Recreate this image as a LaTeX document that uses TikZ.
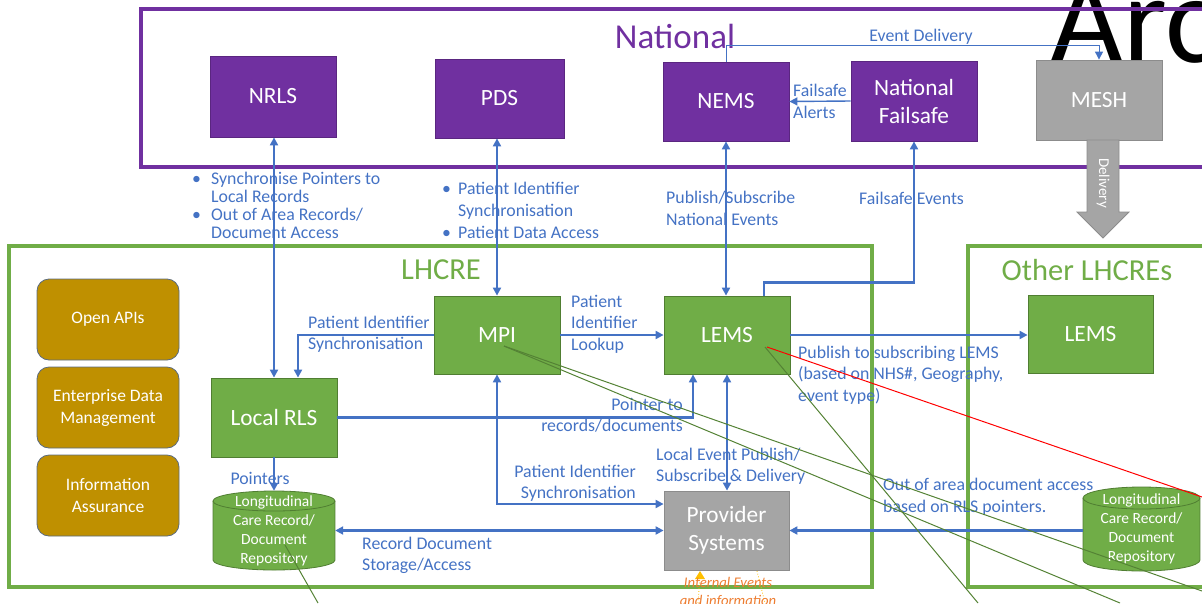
\documentclass[tikz,border=0pt]{standalone}
\usepackage{fontspec}
\setmainfont{Carlito}
\usetikzlibrary{arrows.meta}
\definecolor{npurple}{HTML}{7030A0}
\definecolor{lgreen}{HTML}{70AD47}
\definecolor{dgreen}{HTML}{507E32}
\definecolor{sgreen}{HTML}{548235}
\definecolor{lblue}{HTML}{4472C4}
\definecolor{gold}{HTML}{BF9000}
\definecolor{goldedge}{HTML}{5B6B80}
\definecolor{mgray}{HTML}{A5A5A5}
\definecolor{dgray}{HTML}{8C8C8C}
\definecolor{orng}{HTML}{ED7D31}
\definecolor{yorng}{HTML}{FFC000}
\newcommand\fs[2]{\fontsize{#1}{#2}\selectfont}
\begin{document}
\begin{tikzpicture}[x=1pt,y=-1pt,
  boxbase/.style={inner sep=0, align=center, text=white, font=\fs{23.3}{28}, line width=0.8pt},
  pbox/.style={boxbase, fill=npurple, draw=npurple!80!black},
  gbox/.style={boxbase, fill=lgreen, draw=dgreen},
  graybox/.style={boxbase, fill=mgray, draw=dgray},
  aux/.style={inner sep=0, align=center, text=white, font=\fs{17.5}{22}, fill=gold, draw=goldedge, line width=0.8pt, rounded corners=12pt, minimum width=142, minimum height=81},
  frame/.style={line width=3.5pt},
  lbl/.style={text=lblue, font=\fs{17.8}{21.5}, inner sep=0, align=left},
  conn/.style={draw=lblue, line width=2.3pt, arrows={-}},
  thinconn/.style={draw=lblue, line width=1pt},
  tip/.style={-{Triangle[length=8pt,width=8pt]}},
  tips/.style={{Triangle[length=8pt,width=8pt]}-{Triangle[length=8pt,width=8pt]}},
  cyltext/.style={inner sep=0, align=center, text=white, font=\fs{15.5}{19}},
  stray/.style={draw=sgreen, line width=1pt}
]
\useasboundingbox (0,0) rectangle (1202,603);
\clip (0,0) rectangle (1202,603);

% title fragment
\node[anchor=base west, inner sep=0, font=\fs{126}{130}] (title) at (1050,62) {Arc};

% containers
\draw[frame, draw=npurple] (141,9) rectangle (1230,167);
\node[text=npurple, font=\fs{35}{40}, inner sep=0] (natl) at (675,36) {National};
\draw[frame, draw=lgreen] (9,246) rectangle (872,587);
\node[text=lgreen, font=\fs{30.5}{36}, inner sep=0] (lhcrelbl) at (441,270) {LHCRE};
\draw[frame, draw=lgreen] (968,246) rectangle (1230,587);
\node[text=lgreen, font=\fs{30.5}{36}, inner sep=0] (otherlbl) at (1087,270) {Other LHCREs};

% national boxes
\node[pbox, minimum width=126, minimum height=81] (nrls) at (273,96.5) {NRLS};
\node[pbox, minimum width=129, minimum height=79] (pds) at (499.5,98.5) {PDS};
\node[pbox, minimum width=126, minimum height=79] (nems) at (726,101.5) {NEMS};
\node[pbox, minimum width=126, minimum height=80] (nfs) at (914,101) {National\\Failsafe};
\node[graybox, minimum width=126, minimum height=80] (mesh) at (1099,100) {MESH};

% delivery block arrow
\filldraw[fill=mgray, draw=dgray, line width=0.8pt]
  (1087,140) -- (1087,212) -- (1077,212) -- (1103,238) -- (1129,212) -- (1119,212) -- (1119,140) -- cycle;
\node[rotate=-90, text=white, font=\fs{15}{18}, inner sep=0] (dlv) at (1103,183) {Delivery};

% LHCRE boxes
\node[aux] (oapi) at (108,319.5) {Open APIs};
\node[aux] (edm) at (108,407.5) {Enterprise Data\\Management};
\node[aux] (ia) at (108,495.5) {Information\\Assurance};
\node[gbox, minimum width=126, minimum height=79] (lrls) at (274,417.5) {Local RLS};
\node[gbox, minimum width=126, minimum height=78] (mpi) at (497,335) {MPI};
\node[gbox, minimum width=126, minimum height=78] (lems) at (727,335) {LEMS};
\node[graybox, minimum width=125, minimum height=79] (prov) at (726.5,530.5) {Provider\\Systems};
\node[gbox, minimum width=125, minimum height=78] (olems) at (1090.5,334) {LEMS};

% cylinders
\fill[lgreen] (213,501) rectangle (335,560);
\fill[lgreen] (274,560) ellipse[x radius=61, y radius=10];
\draw[dgreen, line width=0.8pt] (213,501) -- (213,560) arc[start angle=180, end angle=0, x radius=61, y radius=10] -- (335,501);
\filldraw[fill=lgreen, draw=dgreen, line width=0.8pt] (274,501) ellipse[x radius=61, y radius=10];
\node[cyltext, minimum width=122, minimum height=79] (lcyl) at (274,530.5) {Longitudinal\\Care Record/\\Document\\Repository};

\fill[lgreen] (1083,498) rectangle (1200,560);
\fill[lgreen] (1141.5,560) ellipse[x radius=58.5, y radius=11];
\draw[dgreen, line width=0.8pt] (1083,498) -- (1083,560) arc[start angle=180, end angle=0, x radius=58.5, y radius=11] -- (1200,498);
\filldraw[fill=lgreen, draw=dgreen, line width=0.8pt] (1141.5,498) ellipse[x radius=58.5, y radius=11];
\node[cyltext, minimum width=117, minimum height=84] (rcyl) at (1141.5,529) {Longitudinal\\Care Record/\\Document\\Repository};

% connectors national
\draw[conn, tips] (lrls.north |- nrls.south) -- (lrls.north);
\draw[conn, tips] (mpi.north |- pds.south) -- (mpi.north);
\draw[conn, tips] (nems.south) -- (nems.south |- lems.north);
\draw[conn, tip] ([xshift=37pt]lems.north) -- ++(0,-13) -| (nfs.south);
\draw[thinconn, tip] (nems.north) -- ++(0,-16) -| (mesh.north);
\draw[draw=lblue, line width=1.4pt, tip] (nfs.west) -- (nems.east);

% connectors local
\draw[conn, tip] (mpi.west) -| ([xshift=24pt]lrls.north);
\draw[conn, tip] (mpi.east) -- (lems.west);
\draw[conn, tip] (lrls.east) -| ([xshift=-34pt]lems.south);
\draw[conn, tips] (mpi.south) |- ([yshift=26.5pt]prov.west);
\draw[conn, tips] (lems.south) -- (lems.south |- prov.north);
\draw[conn, tips] (lcyl.east) -- (prov.west |- lcyl.east);
\draw[conn, tip] (lems.east) -- (olems.west |- lems.east);
\draw[conn, tip] (rcyl.west |- prov.east) -- (prov.east);
\draw[conn, tip] (lrls.south) -- (lcyl.north);

% labels
\node[lbl, anchor=west, font=\fs{17.8}{18}] (l1) at (192,208) {\begin{tabular}{@{}l@{}l@{}}\makebox[19pt][l]{\textbullet} & Synchronise Pointers to\\ & Local Records\\ \makebox[19pt][l]{\textbullet} & Out of Area Records/\\ & Document Access\end{tabular}};
\node[lbl, anchor=west, font=\fs{17.8}{22}] (l2) at (442,212) {\begin{tabular}{@{}l@{}l@{}}\makebox[16pt][l]{\textbullet} & Patient Identifier\\ & Synchronisation\\ \makebox[16pt][l]{\textbullet} & Patient Data Access\end{tabular}};
\node[lbl, anchor=west] (l3) at (666,208.5) {Publish/Subscribe\\National Events};
\node[lbl, anchor=west] (l4) at (859,198) {Failsafe Events};
\node[lbl, anchor=west] (l5) at (793,101.5) {Failsafe\\Alerts};
\node[lbl] (l6) at (921,37) {Event Delivery};
\node[lbl, anchor=west] (l7) at (308,334) {Patient Identifier\\Synchronisation};
\node[lbl, anchor=west] (l8) at (571,324) {Patient\\Identifier\\Lookup};
\node[lbl, anchor=east, align=right] (l9) at (683,415) {Pointer to\\records/documents};
\node[lbl, anchor=east, align=right] (l10) at (636,483) {Patient Identifier\\Synchronisation};
\node[lbl, anchor=west] (l11) at (656,466) {Local Event Publish/\\Subscribe \& Delivery};
\node[lbl, anchor=west] (l12) at (362,555.5) {Record Document\\Storage/Access};
\node[lbl, anchor=west] (l13) at (798,375) {Publish to subscribing LEMS\\(based on NHS\#, Geography,\\event type)};
\node[lbl, anchor=west] (l14) at (883,496.5) {Out of area document access\\based on RLS pointers.};
\node[lbl] (l15) at (260,478) {Pointers};

% internal events
\draw[draw=yorng, line width=0.8pt, dotted] (698,603) -- (700,576);
\fill[yorng] (700,571) -- (695,579) -- (705,579) -- cycle;
\draw[draw=yorng, line width=0.8pt, dotted] (757,571) -- (765,603);
\node[text=orng, font=\itshape\fs{14.7}{18}, inner sep=0, align=center] (intev) at (728,592) {Internal Events\\and information};

% stray lines
\draw[stray] (504,346) -- (1202,591);
\draw[stray] (504,346) -- (1120,603);
\draw[stray] (765,347) -- (978,603);
\draw[draw=red, line width=1pt] (767,347) -- (1202,497);
\draw[stray] (285,545) -- (318,603);
\end{tikzpicture}
\end{document}
